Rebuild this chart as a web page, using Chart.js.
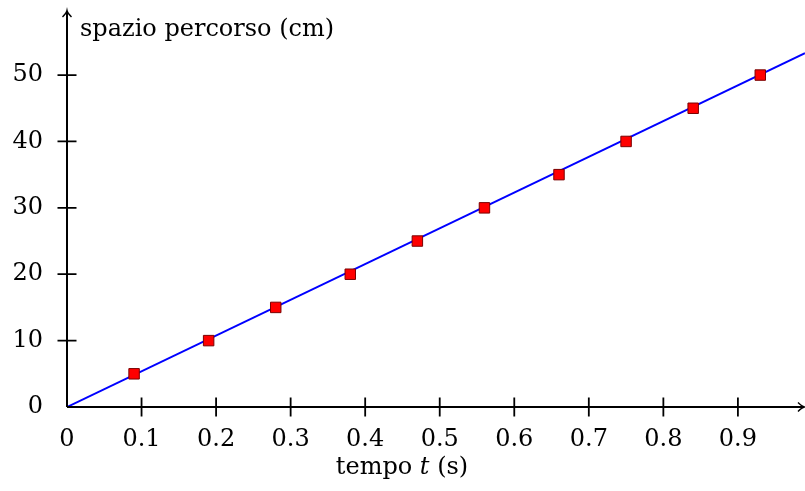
<!DOCTYPE html>
<html>
<head>
<meta charset="utf-8">
<script src="https://cdn.jsdelivr.net/npm/chart.js@4.4.1/dist/chart.umd.min.js"></script>
<style>
  html, body { margin: 0; padding: 0; background: #fff; overflow: hidden; }
  #wrap { width: 805px; height: 491px; }
</style>
</head>
<body>
<div id="wrap"><canvas id="moto"></canvas></div>
<script>
// dati misurati: tempo (s) e spazio (cm)
var tempi = [0.09, 0.19, 0.28, 0.38, 0.47, 0.56, 0.66, 0.75, 0.84, 0.93];
var spazi = [5, 10, 15, 20, 25, 30, 35, 40, 45, 50];
// retta interpolante
var retta_t = [0, 0.99];
var retta_s = [0, 53.3];
var xTicks = [0.1, 0.2, 0.3, 0.4, 0.5, 0.6, 0.7, 0.8, 0.9];
var yTicks = [10, 20, 30, 40, 50];

var font = '"DejaVu Serif", "Liberation Serif", serif';

var punti = [];
for (let i = 0; i < tempi.length; i++) {
    punti.push({ x: tempi[i], y: spazi[i] });
}
var linea = [];
for (let i = 0; i < retta_t.length; i++) {
    linea.push({ x: retta_t[i], y: retta_s[i] });
}

// assi con frecce, tacche e testi
var assi = {
    id: 'assi',
    afterDraw: function (chart) {
        var c = chart.ctx;
        var xs = chart.scales.x, ys = chart.scales.y;
        var x0 = xs.getPixelForValue(0), y0 = ys.getPixelForValue(0);
        var right = chart.chartArea.right, top = chart.chartArea.top;
        c.save();
        c.strokeStyle = '#000';
        c.fillStyle = '#000';
        c.lineWidth = 2;
        c.beginPath();
        c.moveTo(x0, y0); c.lineTo(right - 2, y0);
        c.moveTo(x0, y0); c.lineTo(x0, top + 2);
        c.stroke();
        // frecce
        c.lineWidth = 1.4;
        c.beginPath();
        c.moveTo(right - 7, y0 - 4.5); c.quadraticCurveTo(right - 3, y0 - 0.5, right - 0.5, y0);
        c.quadraticCurveTo(right - 3, y0 + 0.5, right - 7, y0 + 4.5);
        c.moveTo(x0 - 4.5, top + 7); c.quadraticCurveTo(x0 - 0.5, top + 3, x0, top + 0.5);
        c.quadraticCurveTo(x0 + 0.5, top + 3, x0 + 4.5, top + 7);
        c.stroke();
        // tacche
        c.lineWidth = 1.8;
        c.beginPath();
        xTicks.forEach(function (v) {
            var p = xs.getPixelForValue(v);
            c.moveTo(p, y0 - 9.5); c.lineTo(p, y0 + 9.5);
        });
        yTicks.forEach(function (v) {
            var p = ys.getPixelForValue(v);
            c.moveTo(x0 - 9.5, p); c.lineTo(x0 + 9.5, p);
        });
        c.stroke();
        // etichette
        c.font = '24px ' + font;
        c.textBaseline = 'middle';
        c.textAlign = 'center';
        c.fillText('0', x0, y0 + 33);
        xTicks.forEach(function (v) {
            c.fillText(String(v), xs.getPixelForValue(v), y0 + 33);
        });
        c.textAlign = 'right';
        c.fillText('0', x0 - 24, y0);
        yTicks.forEach(function (v) {
            c.fillText(String(v), x0 - 24, ys.getPixelForValue(v));
        });
        // titoli
        c.textAlign = 'left';
        c.fillText('spazio percorso (cm)', 80, 30);
        var parti = [['tempo ', ''], ['t', 'italic '], [' (s)', '']];
        var w = 0;
        parti.forEach(function (p) { c.font = p[1] + '24px ' + font; w += c.measureText(p[0]).width; });
        var xx = 402 - w / 2;
        parti.forEach(function (p) {
            c.font = p[1] + '24px ' + font;
            c.fillText(p[0], xx, y0 + 61);
            xx += c.measureText(p[0]).width;
        });
        c.restore();
    }
};

var ctx = document.getElementById('moto').getContext('2d');
var chart = new Chart(ctx, {
    type: 'scatter',
    data: {
        datasets: [{
            label: 'retta',
            data: linea,
            showLine: true,
            borderColor: '#0000ff',
            borderWidth: 2,
            pointRadius: 0,
            order: 2
        }, {
            label: 'misure',
            data: punti,
            pointStyle: 'rect',
            pointRadius: 7.4,
            pointHoverRadius: 7.4,
            backgroundColor: '#ff0000',
            borderColor: '#7a0000',
            borderWidth: 1,
            order: 1
        }]
    },
    options: {
        responsive: true,
        maintainAspectRatio: false,
        animation: false,
        layout: { autoPadding: false, padding: { left: 67, top: 10, right: 0, bottom: 84 } },
        scales: {
            x: { type: 'linear', min: 0, max: 0.99, display: false },
            y: { type: 'linear', min: 0, max: 59.8, display: false }
        },
        plugins: {
            legend: { display: false },
            tooltip: { enabled: false }
        }
    },
    plugins: [assi]
});
</script>
</body>
</html>
